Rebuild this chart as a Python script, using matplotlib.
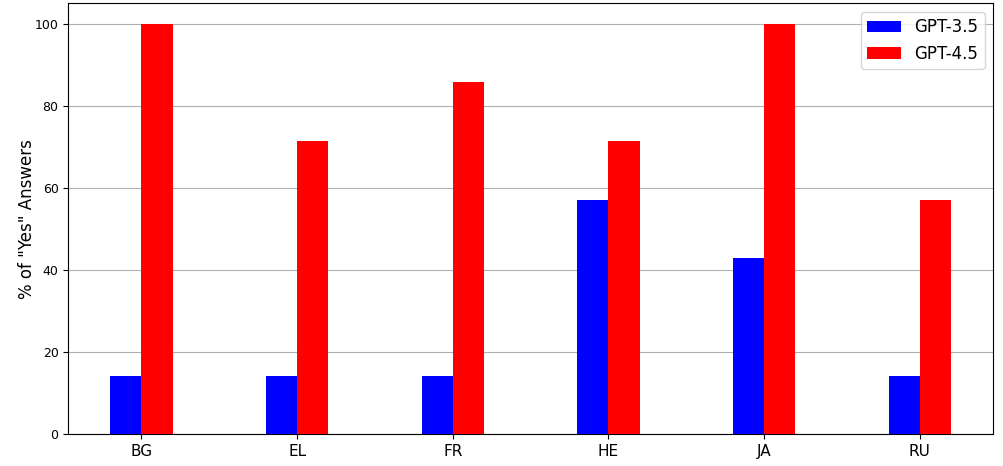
import matplotlib
matplotlib.use("Agg")
import matplotlib.pyplot as plt
import numpy as np

languages = ["BG", "EL", "FR", "HE", "JA", "RU"]
gpt35 = [14.29, 14.29, 14.29, 57.14, 42.86, 14.29]
gpt45 = [100.0, 71.43, 85.71, 71.43, 100.0, 57.14]

fig, ax = plt.subplots(figsize=(10.04, 4.66), dpi=100)
x = np.arange(len(languages))
w = 0.2
ax.bar(x - w/2, gpt35, w, color="blue", label="GPT-3.5", zorder=3)
ax.bar(x + w/2, gpt45, w, color="red", label="GPT-4.5", zorder=3)
ax.set_xticks(x)
ax.set_xticklabels(languages, fontsize=11)
ax.tick_params(axis="y", labelsize=9)
ax.set_ylabel('% of "Yes" Answers', fontsize=12, labelpad=-1)
ax.yaxis.grid(True, zorder=0)
ax.set_axisbelow(True)
ax.legend(fontsize=12, loc="upper right")
fig.subplots_adjust(left=0.068, right=0.989, top=0.993, bottom=0.068)
fig.savefig("out.png", dpi=100)
